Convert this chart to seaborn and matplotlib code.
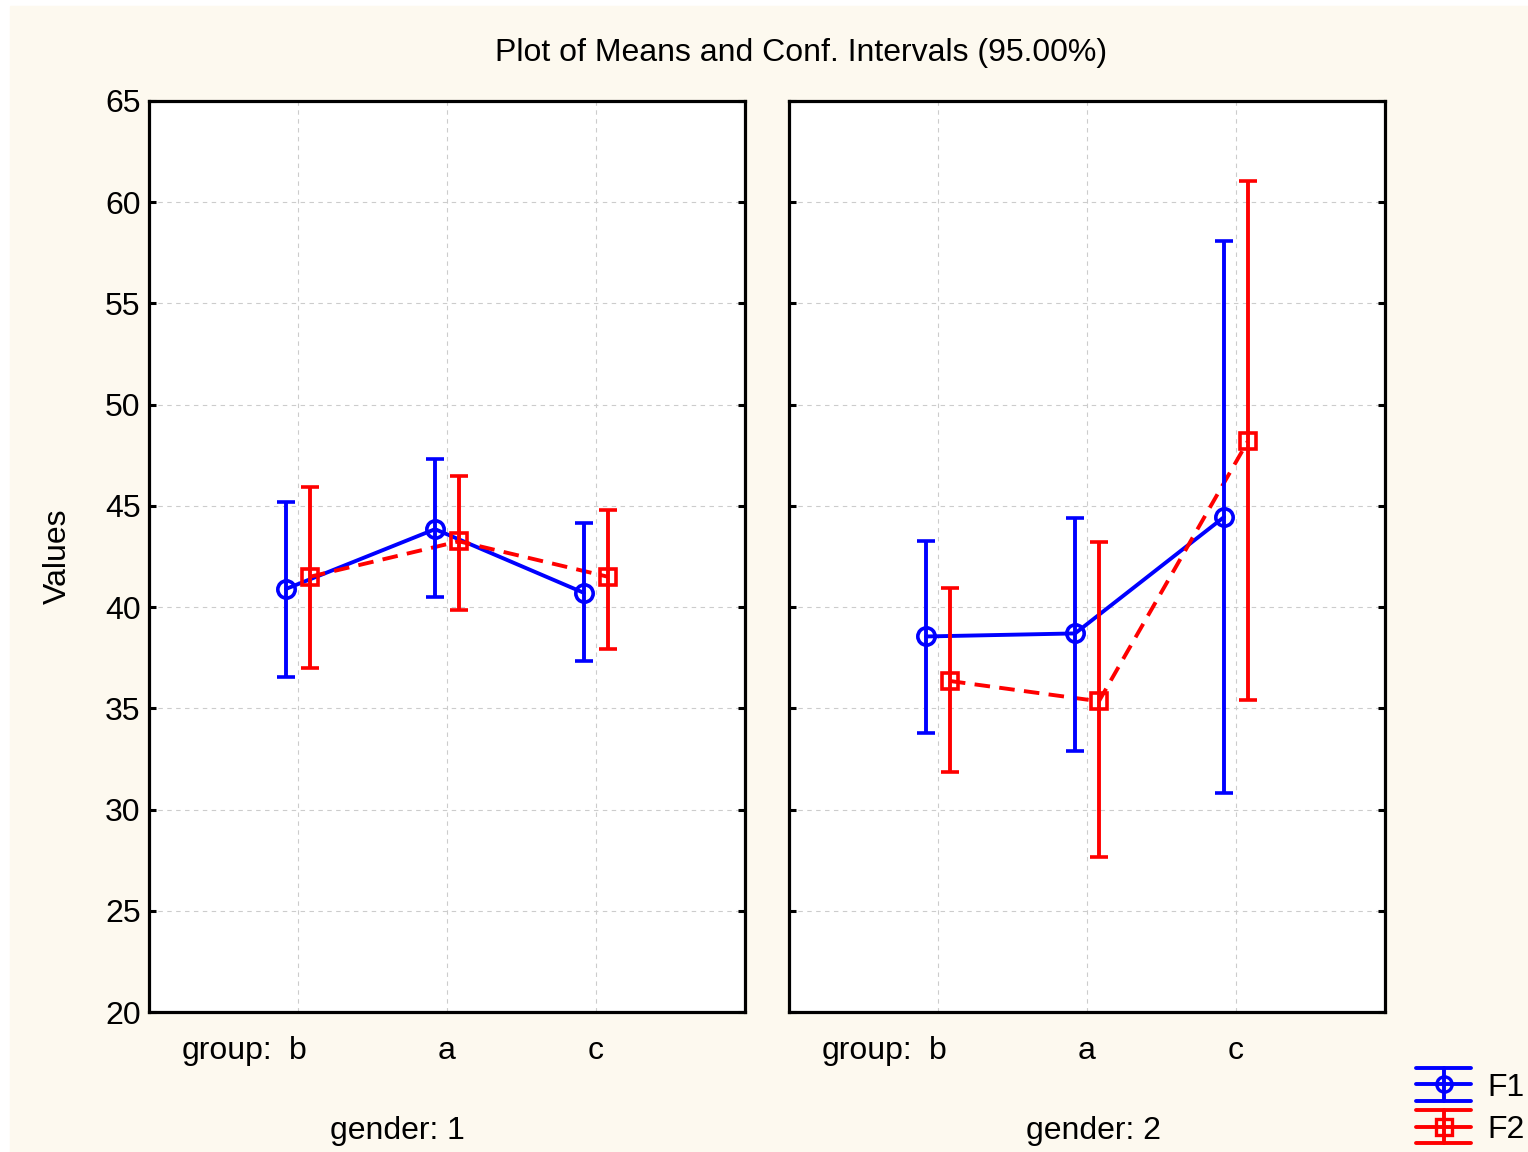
import pandas as pd
import seaborn as sns
import matplotlib.pyplot as plt
import matplotlib.transforms as mtransforms
from matplotlib.lines import Line2D
from matplotlib.patches import Rectangle
from matplotlib.legend_handler import HandlerBase

# Categories
groups = ["b", "a", "c"]
genders = ["1", "2"]
factors = ["F1", "F2"]

# Means and 95% CI bounds
# order: gender 1 (b, a, c), then gender 2 (b, a, c)
f1_mean = [40.9, 43.85, 40.7, 38.55, 38.7, 44.45]
f1_low = [36.55, 40.5, 37.35, 33.8, 32.9, 30.8]
f1_high = [45.2, 47.3, 44.15, 43.25, 44.4, 58.1]

f2_mean = [41.5, 43.25, 41.5, 36.35, 35.35, 48.2]
f2_low = [37.0, 39.85, 37.95, 31.85, 27.65, 35.4]
f2_high = [45.95, 46.5, 44.8, 40.95, 43.2, 61.05]

# Build a long table
rows = []
for fac, m, lo, hi in [("F1", f1_mean, f1_low, f1_high), ("F2", f2_mean, f2_low, f2_high)]:
    for i in range(6):
        rows.append({
            "factor": fac,
            "gender": genders[i // 3],
            "group": groups[i % 3],
            "mean": m[i],
            "low": lo[i],
            "high": hi[i],
        })
df = pd.DataFrame(rows)
df["idx"] = df["group"].map({g: i for i, g in enumerate(groups)})

style = {
    "F1": dict(color="#0000ff", marker="o", dashes=None, offset=-0.08),
    "F2": dict(color="#ff0000", marker="s", dashes=(4, 2.4), offset=0.08),
}
df["pos"] = df["idx"] + df["factor"].map({k: v["offset"] for k, v in style.items()})

sns.set_style("ticks")
plt.rcParams["font.family"] = ["Liberation Sans", "DejaVu Sans"]
plt.rcParams["text.color"] = "black"
plt.rcParams["xtick.color"] = "black"
plt.rcParams["ytick.color"] = "black"
plt.rcParams["axes.labelcolor"] = "black"
FS = 23
LW = 2.8

fig = plt.figure(figsize=(15.28, 11.52), dpi=100)
fig.patch.set_facecolor("white")
fig.add_artist(Rectangle((10 / 1528, 0), 1, 1 - 6 / 1152, transform=fig.transFigure,
                         color="#fdf9ef", zorder=-10))

W, H = 1528, 1152
ax_lefts = [149, 789]
axes = []
for k, gender in enumerate(genders):
    ax = fig.add_axes([ax_lefts[k] / W, 1 - 1012 / H, 596 / W, 911 / H])
    ax.set_facecolor("white")
    axes.append(ax)
    for fac in factors:
        st = style[fac]
        sub = df[(df["gender"] == gender) & (df["factor"] == fac)]
        sns.lineplot(data=sub, x="pos", y="mean", ax=ax, color=st["color"], lw=LW,
                     estimator=None, sort=False, legend=False, zorder=3)
        if st["dashes"] is not None:
            ax.lines[-1].set_dashes(st["dashes"])
        ax.errorbar(sub["pos"], sub["mean"],
                    yerr=[sub["mean"] - sub["low"], sub["high"] - sub["mean"]],
                    fmt=st["marker"], ms=12.5 if st["marker"] == "o" else 12, mfc="none",
                    mec=st["color"], mew=2.6, ecolor=st["color"], elinewidth=LW,
                    capsize=6.5, capthick=LW, zorder=4)

    ax.set_xlim(-1, 3)
    ax.set_ylim(20, 65)
    ax.set_yticks(range(20, 66, 5))
    ax.set_xticks(range(len(groups)))
    ax.set_xticklabels(groups)
    ax.set_xlabel("")
    ax.set_ylabel("")
    ax.grid(True, ls=(0, (4, 4)), color="#cccccc", lw=0.8)
    ax.set_axisbelow(True)
    for sp in ax.spines.values():
        sp.set_visible(True)
        sp.set_linewidth(2.3)
        sp.set_color("black")
    ax.tick_params(axis="x", length=0, pad=17, labelsize=FS)
    ax.tick_params(axis="y", direction="in", length=5, width=2.2, left=True, right=True,
                   labelsize=FS, labelleft=(k == 0), pad=6)

    tr = mtransforms.blended_transform_factory(ax.transData, fig.transFigure)
    ax.text(-0.17, 1 - 1051 / H, "group:", transform=tr, ha="right", va="center", fontsize=FS)

axes[0].set_ylabel("Values", fontsize=FS, labelpad=23)

fig.text(801 / W, 1 - 53 / H, "Plot of Means and Conf. Intervals (95.00%)",
         ha="center", va="center", fontsize=FS)
fig.text(397 / W, 1 - 1131 / H, "gender: 1", ha="center", va="center", fontsize=FS)
fig.text(1093 / W, 1 - 1131 / H, "gender: 2", ha="center", va="center", fontsize=FS)


class ErrGlyph(HandlerBase):
    def create_artists(self, legend, orig_handle, xdescent, ydescent, width, height,
                       fontsize, trans):
        col = orig_handle.get_color()
        y0 = height / 2 - ydescent
        dy = 12
        x0, x1 = -xdescent, width - xdescent
        xm = (x0 + x1) / 2
        arts = [Line2D([x0, x1], [y, y], color=col, lw=LW) for y in (y0 - dy, y0, y0 + dy)]
        arts.append(Line2D([xm, xm], [y0 - dy, y0 + dy], color=col, lw=LW))
        arts.append(Line2D([xm], [y0], marker=orig_handle.get_marker(), ms=11,
                           mfc="none", mec=col, mew=2.4, ls="none"))
        for a in arts:
            a.set_transform(trans)
        return arts


handles = [Line2D([], [], color=style[f]["color"], marker=style[f]["marker"]) for f in factors]
fig.legend(handles, factors, handler_map={Line2D: ErrGlyph()}, loc="lower right",
           bbox_to_anchor=(1.0, 1 - 1148 / H), frameon=False, fontsize=FS,
           handlelength=1.75, handletextpad=0.5, labelspacing=0.38, borderpad=0,
           borderaxespad=0.1)

fig.savefig("out.png", dpi=100)
